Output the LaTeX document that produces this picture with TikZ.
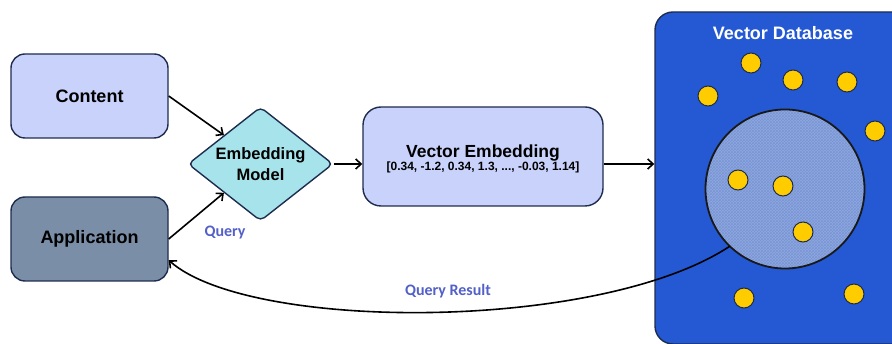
\documentclass[tikz,border=0pt]{standalone}
\usepackage{fontspec}
\setmainfont{Liberation Sans}
\newfontfamily\labelfont{Carlito}
\usetikzlibrary{arrows.meta,shapes.geometric,patterns}

\definecolor{edgenavy}{HTML}{1E2D4F}
\definecolor{lavender}{HTML}{C9D2FA}
\definecolor{slate}{HTML}{7A8FA7}
\definecolor{aqua}{HTML}{A7E3EB}
\definecolor{dbblue}{HTML}{2459D3}
\definecolor{zoneblue}{HTML}{8FA9DC}
\definecolor{hatchblue}{HTML}{3F67C6}
\definecolor{dotyellow}{HTML}{FFCC00}
\definecolor{querytext}{HTML}{5260C8}

\tikzset{
  box/.style={draw=edgenavy, line width=1.4pt, rounded corners=14pt, inner sep=0pt},
  title/.style={font=\bfseries\fontsize{18}{20}\selectfont},
  link/.style={line width=1.6pt, -{Straight Barb[length=5.5pt,width=10pt,line width=1.6pt]}},
  dot/.style={circle, draw=edgenavy, line width=1pt, fill=dotyellow, minimum size=20pt, inner sep=0pt},
  qlabel/.style={font=\labelfont\bfseries\fontsize{16}{18}\selectfont, text=querytext}
}

\begin{document}
\begin{tikzpicture}[x=1pt,y=-1pt]
\useasboundingbox (0,0) rectangle (892,344);
\clip (0,0) rectangle (892,344);

% source boxes
\node[box, fill=lavender, minimum width=157pt, minimum height=84pt, title] (content) at (89.5,96) {Content};
\node[box, fill=slate, minimum width=157pt, minimum height=84pt, title] (app) at (89.5,239) {Application};

% embedding model
\node[diamond, draw=edgenavy, line width=1.4pt, fill=aqua, rounded corners=5pt,
      minimum width=145pt, minimum height=114pt, inner sep=0pt, aspect=1.27,
      align=center, font=\bfseries\fontsize{16.5}{21}\selectfont] (model) at (260.5,164) {Embedding\\Model};

% vector embedding
\node[box, fill=lavender, minimum width=240pt, minimum height=99pt, rounded corners=18pt] (vec) at (483,156.5) {};
\node[align=center, inner sep=0pt] (vectext) at (483,159)
  {{\bfseries\fontsize{17.5}{20}\selectfont Vector Embedding}\\[-1pt]
   {\bfseries\fontsize{12}{14}\selectfont [0.34, -1.2, 0.34, 1.3, ..., -0.03, 1.14]}};

% vector database
\node[box, fill=dbblue, rounded corners=18pt, minimum width=260pt, minimum height=332pt] (db) at (785,178) {};
\node[title, text=white] (dbtitle) at (783,33) {Vector Database};

% similarity zone
\node[circle, minimum size=159pt, inner sep=0pt, fill=zoneblue] (zone) at (785,189) {};
\fill[pattern=crosshatch, pattern color=hatchblue!70] (zone.center) circle[radius=79.5pt];
\draw[line width=1.8pt, black!90] (zone.center) circle[radius=79.5pt];

% stored vectors
\foreach \n/\x/\y in {a/751/63, b/793/80, c/847/82, d/708/96, e/875/131,
                       f/738/180, g/783/186, h/803/232, i/744/298, j/854/294}
  \node[dot] (v\n) at (\x,\y) {};

% connectors
\draw[link] (content.east) -- (model.north west);
\draw[link] (app.east) -- (model.south west);
\draw[link] (model.east) -- (model.east -| vec.west);
\draw[link] (vec.east |- model.east) -- (vec.east |- model.east -| db.west);
\draw[link] (zone.226) .. controls (600,332) and (250,332) .. (app.-15);

% labels
\node[qlabel] (qlab) at (225,233) {Query};
\node[qlabel] (qrlab) at (448,291) {Query Result};
\end{tikzpicture}
\end{document}
